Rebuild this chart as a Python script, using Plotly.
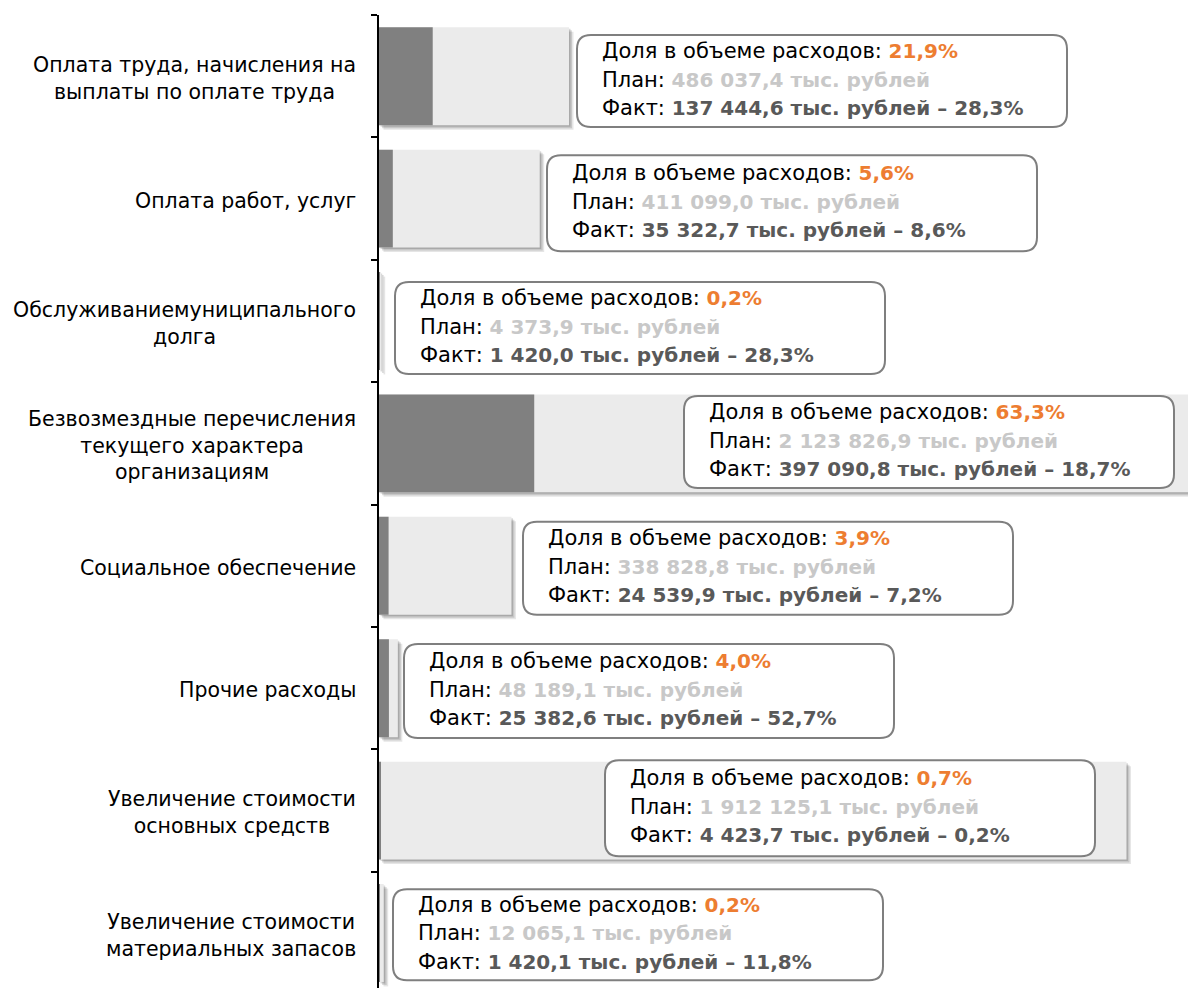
import plotly.graph_objects as go

# ---------------- data ----------------
categories = [
    "Оплата труда, начисления на<br>выплаты по оплате труда",
    "Оплата работ, услуг",
    "Обслуживаниемуниципального<br>долга",
    "Безвозмездные перечисления<br>текущего характера<br>организациям",
    "Социальное обеспечение",
    "Прочие расходы",
    "Увеличение стоимости<br>основных средств",
    "Увеличение стоимости<br>материальных запасов",
]
plan = [486037.4, 411099.0, 4373.9, 2123826.9, 338828.8, 48189.1, 1912125.1, 12065.1]
fact = [137444.6, 35322.7, 1420.0, 397090.8, 24539.9, 25382.6, 4423.7, 1420.1]
share_text = ["21,9%", "5,6%", "0,2%", "63,3%", "3,9%", "4,0%", "0,7%", "0,2%"]
exec_text = ["28,3%", "8,6%", "28,3%", "18,7%", "7,2%", "52,7%", "0,2%", "11,8%"]

# ---------------- layout constants ----------------
PAGE_PAD = 8             # default page body margin
W, H = 1196 - PAGE_PAD, 988 - PAGE_PAD
L_REF, T_REF = 379, 15   # plot area left/top in window pixels
L, T = L_REF - PAGE_PAD, T_REF - PAGE_PAD
PW, PH = W - L, H - T
BAND = 122.4
XMAX = 2090000
DPP = XMAX / PW  # data units per pixel

FONT = "DejaVu Sans"
ORANGE = "#ED7D31"
PLAN_GRAY = "#C8C8C8"
FACT_GRAY = "#595959"

# label boxes (window pixel placement)
box_left_px = [577, 547, 395, 684, 523, 404, 605, 393]
box_dy_px = [4.8, 4.7, 7, -1.4, 2.5, 2.8, -2.3, 1.7]
box_h_px = [92, 96, 92, 92, 93, 94, 96, 91]
BOX_W = 490
RADIUS = 14
TEXT_PAD = 23
line_offsets = [-30, -1.5, 27]
LABEL_RIGHT = 358


def fmt(v):
    return f"{v:,.1f}".replace(",", " ").replace(".", ",")


def px_to_paper(px):
    return (px - L_REF) / PW


fig = go.Figure()

# soft shadows behind plan bars
for sh, op in [(4.5, 0.10), (3.0, 0.13), (1.5, 0.15)]:
    fig.add_trace(go.Bar(
        y=categories, x=plan, base=sh * DPP, orientation="h",
        width=0.8, offset=-0.4 + sh / BAND,
        marker=dict(color=f"rgba(0,0,0,{op})", line=dict(width=0)),
        hoverinfo="skip", showlegend=False,
    ))

fig.add_trace(go.Bar(
    y=categories, x=plan, orientation="h", width=0.8, offset=-0.4,
    marker=dict(color="#EBEBEB", line=dict(width=0)), name="План", showlegend=False,
))
fig.add_trace(go.Bar(
    y=categories, x=fact, orientation="h", width=0.8, offset=-0.4,
    marker=dict(color="#808080", line=dict(width=0)), name="Факт", showlegend=False,
))

shapes = []
annotations = []
for i in range(len(categories)):
    left = box_left_px[i]
    dy = box_dy_px[i]
    h = box_h_px[i]
    top = -dy + h / 2
    bot = -dy - h / 2
    r = RADIUS
    w = BOX_W
    path = (f"M {r},{top} L {w - r},{top} Q {w},{top} {w},{top - r} "
            f"L {w},{bot + r} Q {w},{bot} {w - r},{bot} "
            f"L {r},{bot} Q 0,{bot} 0,{bot + r} "
            f"L 0,{top - r} Q 0,{top} {r},{top} Z")
    shapes.append(dict(
        type="path", xref="paper", yref="y",
        xsizemode="pixel", ysizemode="pixel",
        xanchor=px_to_paper(left), yanchor=i,
        path=path, fillcolor="white",
        line=dict(color="#7F7F7F", width=2), layer="above",
    ))
    bold = "font-size:20px"
    lines = [
        f"Доля в объеме расходов: <b><span style='color:{ORANGE};{bold}'>{share_text[i]}</span></b>",
        f"План: <b><span style='color:{PLAN_GRAY};{bold}'>{fmt(plan[i])} тыс. рублей</span></b>",
        f"Факт: <b><span style='color:{FACT_GRAY};{bold}'>{fmt(fact[i])} тыс. рублей – {exec_text[i]}</span></b>",
    ]
    for j, txt in enumerate(lines):
        annotations.append(dict(
            text=txt, xref="paper", yref="y",
            x=px_to_paper(left + TEXT_PAD), y=i,
            xanchor="left", yanchor="middle",
            yshift=-(dy + line_offsets[j]),
            showarrow=False, align="left",
            font=dict(family=FONT, size=21, color="black"),
        ))
    # category label
    annotations.append(dict(
        text=categories[i], xref="paper", yref="y",
        x=px_to_paper(LABEL_RIGHT), y=i, xanchor="right", yanchor="middle",
        yshift=-2, showarrow=False, align="center",
        font=dict(family=FONT, size=20.5, color="black"),
    ))

fig.update_layout(
    width=W, height=H,
    margin=dict(l=L, r=0, t=T, b=0, pad=0),
    paper_bgcolor="white", plot_bgcolor="white",
    barmode="overlay",
    shapes=shapes, annotations=annotations,
    showlegend=False,
    xaxis=dict(range=[0, XMAX], visible=False, showgrid=False, zeroline=False),
    yaxis=dict(
        type="category", categoryorder="array", categoryarray=categories,
        range=[-0.5 + PH / BAND, -0.5],
        showline=True, linecolor="black", linewidth=2,
        ticks="outside", ticklen=6, tickwidth=2, tickcolor="black",
        tickson="boundaries", showticklabels=False, showgrid=False, zeroline=False,
    ),
)

fig.write_html("out.html")
